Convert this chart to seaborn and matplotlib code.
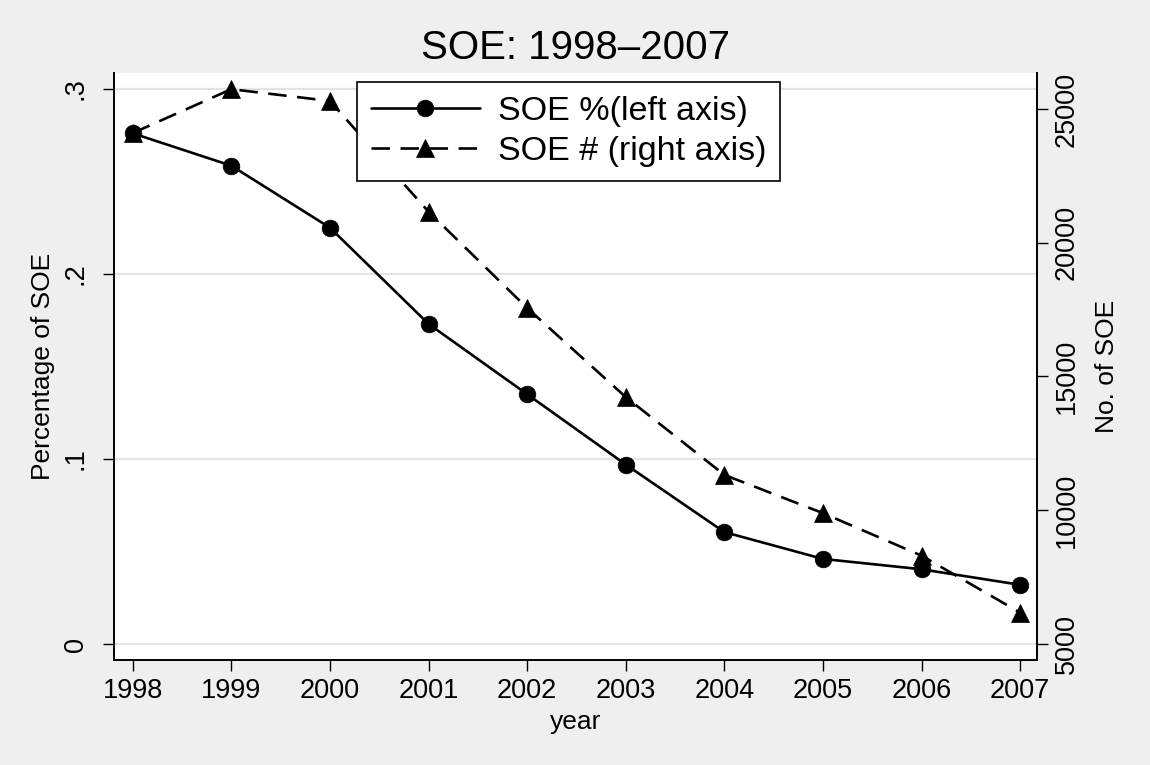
import matplotlib
matplotlib.use("Agg")
import matplotlib.pyplot as plt
import seaborn as sns
import pandas as pd

# --- data ---
years = [1998, 1999, 2000, 2001, 2002, 2003, 2004, 2005, 2006, 2007]
soe_share = [0.276, 0.2585, 0.225, 0.173, 0.135, 0.097, 0.0605, 0.046, 0.0404, 0.032]
soe_count = [24100, 25740, 25300, 21160, 17560, 14230, 11320, 9890, 8300, 6170]

left_ticks = [0, 0.1, 0.2, 0.3]
left_labels = ["0", ".1", ".2", ".3"]
right_ticks = [5000, 10000, 15000, 20000, 25000]

df = pd.DataFrame({"year": years, "share": soe_share, "count": soe_count})

sns.set_theme(style="white")
plt.rcParams["font.family"] = ["Liberation Sans", "DejaVu Sans"]
plt.rcParams["text.color"] = "black"
plt.rcParams["axes.labelcolor"] = "black"

bg = "#efefef"
fig = plt.figure(figsize=(11.5, 7.65), dpi=100, facecolor=bg)
ax = fig.add_axes([0.0991, 0.1373, 0.8026, 0.7673])
ax.set_facecolor("white")
ax2 = ax.twinx()

# left axis: share
sns.lineplot(data=df, x="year", y="share", ax=ax, color="black", lw=1.9,
             marker="o", markersize=12, markeredgecolor="black",
             markeredgewidth=0.5, label="SOE %(left axis)", legend=False)
# right axis: count
sns.lineplot(data=df, x="year", y="count", ax=ax2, color="black", lw=1.9,
             linestyle=(0, (7, 4)), marker="^", markersize=13,
             markeredgecolor="black", markeredgewidth=0.5,
             label="SOE # (right axis)", legend=False)

ax.set_xlim(1997.81, 2007.17)
ax.set_ylim(-0.0086, 0.3086)
ax2.set_ylim(4402, 26346)

ax.set_xticks(years)
ax.set_xticklabels([str(y) for y in years])
ax.set_yticks(left_ticks)
ax.set_yticklabels(left_labels, rotation=90, va="center")
ax2.set_yticks(right_ticks)
ax2.set_yticklabels([str(t) for t in right_ticks], rotation=90, va="center")

ax.yaxis.grid(True, color="#e4e4e4", lw=1.6)
ax.xaxis.grid(False)
ax.set_axisbelow(True)

ax.tick_params(axis="x", direction="out", length=8, width=1, pad=5,
               labelsize=19.5, bottom=True, colors="black")
ax.tick_params(axis="y", direction="out", length=8, width=1, pad=10,
               labelsize=19.5, left=True, colors="black")
ax2.tick_params(axis="y", direction="out", length=8, width=1, pad=4,
                labelsize=19.5, right=True, colors="black")

for name, sp in ax.spines.items():
    sp.set_visible(name in ("left", "bottom"))
    sp.set_color("black")
    sp.set_linewidth(1.4)
for name, sp in ax2.spines.items():
    sp.set_visible(name == "right")
    sp.set_color("black")
    sp.set_linewidth(1.4)

ax.set_xlabel("year", fontsize=19, labelpad=4)
ax.set_ylabel("Percentage of SOE", fontsize=19, labelpad=6)
ax2.set_ylabel("No. of SOE", fontsize=19, labelpad=11)
ax.set_title("SOE: 1998\u20132007", fontsize=29, pad=10)

handles = ax.get_lines()[:1] + ax2.get_lines()[:1]
leg = ax2.legend(handles, ["SOE %(left axis)", "SOE # (right axis)"],
                 loc="upper left", bbox_to_anchor=(357 / 1150, 1 - 82 / 765),
                 bbox_transform=fig.transFigure, fontsize=24.5, frameon=True,
                 fancybox=False, framealpha=1, edgecolor="black",
                 handlelength=3.2, handletextpad=0.55, labelspacing=0.28,
                 borderpad=0.4, borderaxespad=0, numpoints=1)
leg.get_frame().set_linewidth(1.2)

fig.savefig("out.png", dpi=100, facecolor=bg)
